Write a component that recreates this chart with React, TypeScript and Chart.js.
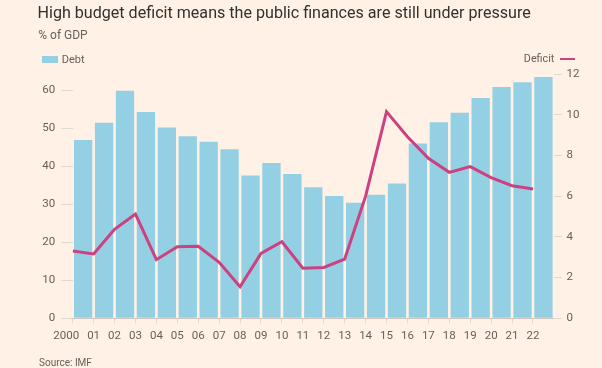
import React, { useEffect, useRef } from "react";
import { Chart, registerables } from "chart.js";

Chart.register(...registerables);

const tickLabels = ["2000\u2007\u2007", "01", "02", "03", "04", "05", "06", "07", "08", "09", "10", "11", "12", "13", "14", "15", "16", "17", "18", "19", "20", "21", "22"];
const debt = [46.9, 51.5, 59.9, 54.3, 50.2, 47.9, 46.5, 44.5, 37.6, 40.9, 38.0, 34.5, 32.2, 30.4, 32.5, 35.5, 46.0, 51.6, 54.1, 58.0, 60.9, 62.1, 63.5];
const deficit = [3.31, 3.16, 4.37, 5.12, 2.88, 3.52, 3.54, 2.75, 1.55, 3.19, 3.76, 2.46, 2.5, 2.91, 6.0, 10.15, 8.92, 7.86, 7.17, 7.45, 6.91, 6.51, 6.35];
const leftTicks = [0, 10, 20, 30, 40, 50, 60];
const rightTicks = [0, 2, 4, 6, 8, 10, 12];

const BG = "#FFF1E5";
const BAR = "#93D0E4";
const LINE = "#CC4180";
const GREY = "#66605C";
const TICK = "#E2D9D0";
const AXIS = "#CEC5BC";
const FONT = "Roboto";

export default function App() {
  const ref = useRef<HTMLCanvasElement | null>(null);

  useEffect(() => {
    if (!ref.current) return;
    Chart.defaults.font.family = FONT;
    const chart = new Chart(ref.current, {
      type: "bar",
      data: {
        datasets: [
          {
            type: "line",
            label: "Deficit",
            data: deficit.map((v, i) => ({ x: i, y: v })),
            xAxisID: "x",
            yAxisID: "y1",
            borderColor: LINE,
            borderWidth: 3,
            pointRadius: 0,
            fill: false,
            tension: 0,
            order: 0,
          } as any,
          {
            type: "bar",
            label: "Debt",
            data: debt.map((v, i) => ({ x: i + 0.5, y: v })),
            xAxisID: "x",
            yAxisID: "y",
            backgroundColor: BAR,
            borderWidth: 0,
            categoryPercentage: 1,
            barPercentage: 0.875,
            order: 1,
          } as any,
        ],
      },
      options: {
        animation: false,
        responsive: false,
        maintainAspectRatio: false,
        layout: { padding: { top: 74, left: 0, right: 0, bottom: 0 } },
        plugins: { legend: { display: false }, tooltip: { enabled: false } },
        scales: {
          x: {
            type: "linear",
            min: 0,
            max: 23,
            offset: false,
            afterBuildTicks: (s: any) => {
              s.ticks = tickLabels.map((_, i) => ({ value: i }));
            },
            afterFit: (s: any) => {
              s.height = 49.7;
            },
            ticks: {
              autoSkip: false,
              maxRotation: 0,
              padding: 5.5,
              color: GREY,
              font: { size: 11.5, family: FONT },
              callback: (_v: any, i: number) => tickLabels[i] ?? "",
            },
            grid: { offset: false, drawOnChartArea: false, drawTicks: true, tickLength: 5, color: TICK },
            border: { display: true, color: AXIS },
          },
          y: {
            position: "left",
            min: 0,
            max: 64.3,
            afterBuildTicks: (s: any) => {
              s.ticks = leftTicks.map((v) => ({ value: v }));
            },
            afterFit: (s: any) => {
              s.width = 72.7;
            },
            ticks: { padding: 6, color: GREY, font: { size: 11.5, family: FONT } },
            grid: { drawOnChartArea: false, drawTicks: true, tickLength: 11.5, color: TICK },
            border: { display: false },
          },
          y1: {
            position: "right",
            min: 0,
            max: 12,
            afterBuildTicks: (s: any) => {
              s.ticks = rightTicks.map((v) => ({ value: v }));
            },
            afterFit: (s: any) => {
              s.width = 48.1;
            },
            ticks: { padding: 4.6, color: GREY, font: { size: 11.5, family: FONT } },
            grid: { drawOnChartArea: false, drawTicks: true, tickLength: 8, color: TICK },
            border: { display: false },
          },
        },
      } as any,
    });
    return () => chart.destroy();
  }, []);

  const text = (extra: React.CSSProperties): React.CSSProperties => ({
    position: "absolute",
    fontFamily: FONT,
    lineHeight: 1,
    whiteSpace: "nowrap",
    color: GREY,
    ...extra,
  });

  return (
    <div style={{ position: "absolute", left: 0, top: 0, width: 602, height: 368, background: BG, overflow: "hidden" }}>
      <canvas ref={ref} width={602} height={368} style={{ position: "absolute", left: 0, top: 0, width: 602, height: 368 }} />
      <div style={text({ left: 37.5, top: 5, fontSize: 16.1, color: "#33302E" })}>
        High budget deficit means the public finances are still under pressure
      </div>
      <div style={text({ left: 38.3, top: 29, fontSize: 12 })}>% of GDP</div>
      <div style={{ position: "absolute", left: 41.7, top: 55.7, width: 16, height: 7, background: BAR }} />
      <div style={text({ left: 61.7, top: 53.8, fontSize: 11 })}>Debt</div>
      <div style={text({ right: 602 - 554.3, top: 53.8, fontSize: 10.75 })}>Deficit</div>
      <div style={{ position: "absolute", left: 560, top: 57.8, width: 15, height: 2.6, background: LINE }} />
      <div style={text({ left: 39, top: 357.6, fontSize: 10 })}>Source: IMF</div>
    </div>
  );
}
